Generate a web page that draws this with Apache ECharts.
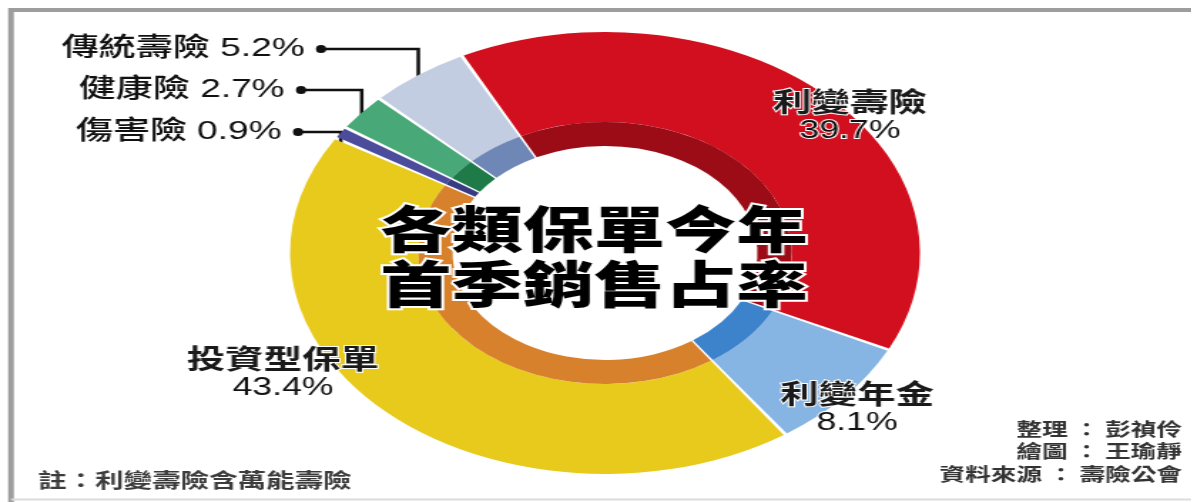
<!DOCTYPE html>
<html><head><meta charset="utf-8">
<script src="https://cdn.jsdelivr.net/npm/echarts@6/dist/echarts.min.js"></script>
<style>
html,body{margin:0;padding:0;background:#fff;overflow:hidden;}
#wrap{width:1192px;height:502px;position:relative;overflow:hidden;background:#fff;}
#chart{position:absolute;left:0;top:0;height:502px;transform-origin:0 0;}
</style></head><body>
<div id="wrap"><div id="chart"></div></div>
<script>
// ---- data ----
const categories = ['利變壽險', '利變年金', '投資型保單', '傷害險', '健康險', '傳統壽險'];
const shares = [39.7, 8.1, 43.4, 0.9, 2.7, 5.2];
const titleLines = ['各類保單今年', '首季銷售占率'];
const noteText = '註：利變壽險含萬能壽險';
const creditLines = ['整理 ： 彭禎伶', '繪圖 ： 王瑜靜', '資料來源 ： 壽險公會'];

// ---- layout ----
const S = 1.425;               // horizontal stretch of the original graphic
const W = 1192 / S, H = 502;
const el = document.getElementById('chart');
el.style.width = W + 'px';
el.style.transform = 'scaleX(' + S + ')';
const X = v => v / S;

const outerColors = ['#d10f1e', '#86b5e3', '#e8ca1c', '#4b4c9c', '#48a878', '#c3cde2'];
const innerColors = ['#9c0c17', '#3d83cc', '#d8812c', '#383a82', '#1e7a47', '#6f87b7'];
const center = [X(605), 253];
const startAngle = 117;
const R_OUT = 221, R_MID = 131, R_IN = 107;
const FONT = '"Liberation Sans","Noto Sans CJK TC",sans-serif';
const CJK = '"Noto Sans CJK TC","Liberation Sans",sans-serif';

const labelPlace = [
  { x: 850, y: 116, mode: 'block' },
  { x: 857, y: 408, mode: 'block' },
  { x: 283, y: 373, mode: 'block' },
  { x: 303, y: 132, mode: 'lead' },
  { x: 306, y: 90, mode: 'lead' },
  { x: 326, y: 49, mode: 'lead' }
];

function anchorFor(i) {
  const total = shares.reduce((a, b) => a + b, 0);
  let before = 0;
  for (let k = 0; k < i; k++) before += shares[k];
  const mid = (before + shares[i] / 2) / total * 360;
  const ang = (startAngle - mid) * Math.PI / 180;
  return [center[0] + R_OUT * Math.cos(ang), center[1] - R_OUT * Math.sin(ang)];
}

const chart = echarts.init(el, null, { width: W, height: H });
chart.setOption({
  animation: false,
  backgroundColor: '#fff',
  graphic: [
    { type: 'polyline', silent: true, z: 0,
      shape: { points: [[X(11), 505], [X(11), 10], [W + 5, 10]] },
      style: { fill: 'none', stroke: '#9d9d9d', lineWidth: 4 } },
    { type: 'line', silent: true, z: 0,
      shape: { x1: X(11), y1: 499.5, x2: W + 5, y2: 499.5 },
      style: { stroke: '#dcdcdc', lineWidth: 2 } },
    { type: 'text', z: 100, x: X(594), y: 229,
      style: { text: titleLines[0], font: '900 50px ' + CJK, fill: '#000', stroke: '#fff', lineWidth: 4,
               align: 'center', verticalAlign: 'middle' } },
    { type: 'text', z: 100, x: X(594), y: 284,
      style: { text: titleLines[1], font: '900 50px ' + CJK, fill: '#000', stroke: '#fff', lineWidth: 4,
               align: 'center', verticalAlign: 'middle' } },
    { type: 'text', z: 100, x: X(38), y: 480,
      style: { text: noteText, font: 'bold 20px ' + CJK, fill: '#3c3c3c', align: 'left', verticalAlign: 'middle' } },
    { type: 'text', z: 100, x: X(1182), y: 429,
      style: { text: creditLines[0], font: 'bold 18px ' + CJK, fill: '#333', align: 'right', verticalAlign: 'middle' } },
    { type: 'text', z: 100, x: X(1182), y: 451,
      style: { text: creditLines[1], font: 'bold 18px ' + CJK, fill: '#333', align: 'right', verticalAlign: 'middle' } },
    { type: 'text', z: 100, x: X(1182), y: 474,
      style: { text: creditLines[2], font: 'bold 18px ' + CJK, fill: '#333', align: 'right', verticalAlign: 'middle' } }
  ],
  series: [
    {
      type: 'pie', name: 'outer', center: center, radius: [R_MID, R_OUT],
      startAngle: startAngle, clockwise: true, padAngle: 0.7,
      avoidLabelOverlap: false, silent: true, z: 2,
      emphasis: { disabled: true },
      data: categories.map((n, i) => ({
        name: n, value: shares[i],
        itemStyle: { color: outerColors[i] },
        labelLine: { show: labelPlace[i].mode === 'lead' }
      })),
      label: {
        show: true, position: 'outside',
        formatter: p => labelPlace[p.dataIndex].mode === 'block'
          ? '{n|' + p.name + '}\n{v|' + p.value.toFixed(1) + '%}'
          : '{t|' + p.name + ' ' + p.value.toFixed(1) + '%}{d|}',
        rich: {
          n: { fontFamily: CJK, fontSize: 27, fontWeight: 'bold', color: '#1a1a1a', lineHeight: 30, align: 'center',
               textBorderColor: '#fff', textBorderWidth: 2 },
          v: { fontFamily: FONT, fontSize: 25, color: '#111', lineHeight: 29, align: 'center',
               textBorderColor: '#fff', textBorderWidth: 2 },
          t: { fontFamily: FONT, fontSize: 26, fontWeight: 500, color: '#111', padding: [0, 8, 0, 0] },
          d: { width: 7, height: 8, borderRadius: 4, backgroundColor: '#111' }
        }
      },
      labelLine: { lineStyle: { color: '#111', width: 2.5 } },
      labelLayout: function (p) {
        const i = p.dataIndex;
        const L = labelPlace[i];
        if (L.mode === 'block') {
          return { x: X(L.x), y: L.y, align: 'center', verticalAlign: 'middle' };
        }
        const right = X(L.x);
        const a = (p.labelLinePoints && p.labelLinePoints[0]) || anchorFor(i);
        return {
          x: right, y: L.y, align: 'right', verticalAlign: 'middle',
          labelLinePoints: [[a[0], a[1] + 12], [a[0], L.y], [right - 3.5, L.y]]
        };
      }
    },
    {
      type: 'pie', name: 'inner', center: center, radius: [R_IN, R_MID],
      startAngle: startAngle, clockwise: true, padAngle: 0.7,
      silent: true, z: 2,
      emphasis: { disabled: true },
      label: { show: false }, labelLine: { show: false },
      data: categories.map((n, i) => ({ name: n, value: shares[i], itemStyle: { color: innerColors[i] } }))
    }
  ]
});
</script>
</body></html>
